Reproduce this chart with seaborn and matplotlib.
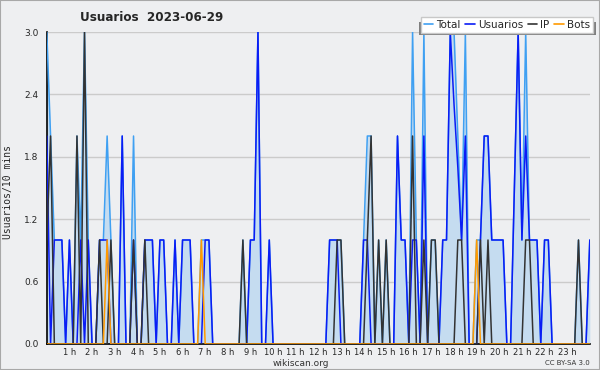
import numpy as np
import pandas as pd
import matplotlib
matplotlib.use("Agg")
import matplotlib.pyplot as plt
import seaborn as sns
from matplotlib.ticker import MultipleLocator, FixedLocator, FormatStrFormatter
from matplotlib.patches import Rectangle
from matplotlib.lines import Line2D

# ---------------- data (10-minute slots, 0h .. 24h) ----------------
title = "Usuarios  2023-06-29"
y_label = "Usuarios/10 mins"
series_names = ["Total", "Usuarios", "IP", "Bots"]
hour_ticks = [1, 2, 3, 4, 5, 6, 7, 8, 9, 10, 11, 12, 13, 14, 15, 16, 17, 18, 19, 20, 21, 22, 23]
hour_labels = ["1 h", "2 h", "3 h", "4 h", "5 h", "6 h", "7 h", "8 h", "9 h", "10 h", "11 h", "12 h",
               "13 h", "14 h", "15 h", "16 h", "17 h", "18 h", "19 h", "20 h", "21 h", "22 h", "23 h"]

total = [3, 2, 1, 1, 1, 0,   1, 0, 2, 1, 3, 1,   0, 0, 1, 1, 2, 1,   0, 0, 2, 0, 0, 2,
         0, 0, 1, 1, 1, 0,   1, 1, 0, 0, 1, 0,   1, 1, 1, 0, 0, 1,   1, 1, 0, 0, 0, 0,
         0, 0, 0, 0, 1, 0,   1, 1, 3, 0, 0, 1,   0, 0, 0, 0, 0, 0,   0, 0, 0, 0, 0, 0,
         0, 0, 0, 1, 1, 1,   1, 0, 0, 0, 0, 0,   1, 2, 2, 0, 1, 0,   1, 0, 0, 2, 1, 1,
         0, 3, 1, 0, 3, 0,   1, 1, 0, 1, 1, 3,   3, 2, 1, 3, 0, 0,   1, 1, 2, 2, 1, 1,
         1, 1, 0, 0, 1.5, 3, 1, 3, 1, 1, 1, 0,   1, 1, 0, 0, 0, 0,   0, 0, 0, 1, 0, 0,
         1]
usuarios = [2, 0, 1, 1, 1, 0,   1, 0, 0, 1, 0, 1,   0, 0, 1, 1, 1, 0,   0, 0, 2, 0, 0, 1,
            0, 0, 1, 1, 1, 0,   1, 1, 0, 0, 1, 0,   1, 1, 1, 0, 0, 0,   1, 1, 0, 0, 0, 0,
            0, 0, 0, 0, 0, 0,   1, 1, 3, 0, 0, 1,   0, 0, 0, 0, 0, 0,   0, 0, 0, 0, 0, 0,
            0, 0, 0, 1, 1, 1,   0, 0, 0, 0, 0, 0,   1, 1, 0, 0, 0, 0,   0, 0, 0, 2, 1, 1,
            0, 1, 1, 0, 2, 0,   0, 0, 0, 1, 1, 3,   2.3, 1.7, 1, 2, 0, 0, 0, 1, 2, 2, 1, 1,
            1, 1, 0, 0, 1.5, 3, 1, 2, 1, 1, 1, 0,   1, 1, 0, 0, 0, 0,   0, 0, 0, 0, 0, 0,
            1]
ip = [1, 2, 0, 0, 0, 0,   0, 0, 2, 0, 3, 0,   0, 0, 1, 0, 0, 1,   0, 0, 0, 0, 0, 1,
      0, 0, 1, 0, 0, 0,   0, 0, 0, 0, 0, 0,   0, 0, 0, 0, 0, 0,   0, 0, 0, 0, 0, 0,
      0, 0, 0, 0, 1, 0,   0, 0, 0, 0, 0, 0,   0, 0, 0, 0, 0, 0,   0, 0, 0, 0, 0, 0,
      0, 0, 0, 0, 0, 1,   1, 0, 0, 0, 0, 0,   0, 1, 2, 0, 1, 0,   1, 0, 0, 0, 0, 0,
      0, 2, 0, 0, 1, 0,   1, 1, 0, 0, 0, 0,   0, 1, 1, 0, 0, 0,   0, 1, 0, 1, 0, 0,
      0, 0, 0, 0, 0, 0,   0, 1, 1, 0, 0, 0,   0, 0, 0, 0, 0, 0,   0, 0, 0, 1, 0, 0,
      0]
bots = [0, 0, 0, 0, 0, 0,   0, 0, 0, 0, 0, 0,   0, 0, 0, 0, 1, 0,   0, 0, 0, 0, 0, 0,
        0, 0, 0, 0, 0, 0,   0, 0, 0, 0, 0, 0,   0, 0, 0, 0, 0, 1,   0, 0, 0, 0, 0, 0,
        0, 0, 0, 0, 0, 0,   0, 0, 0, 0, 0, 0,   0, 0, 0, 0, 0, 0,   0, 0, 0, 0, 0, 0,
        0, 0, 0, 0, 0, 0,   0, 0, 0, 0, 0, 0,   0, 0, 0, 0, 0, 0,   0, 0, 0, 0, 0, 0,
        0, 0, 0, 0, 0, 0,   0, 0, 0, 0, 0, 0,   0, 0, 0, 0, 0, 0,   1, 0, 0, 0, 0, 0,
        0, 0, 0, 0, 0, 0,   0, 0, 0, 0, 0, 0,   0, 0, 0, 0, 0, 0,   0, 0, 0, 0, 0, 0,
        0]

# ---------------- style ----------------
sns.set_style("white")
plt.rcParams['font.family'] = ['DejaVu Sans']
BG = "#eeeff1"
colors = {"Total": "#3fa0f2", "Usuarios": "#0a1cf5", "IP": "#333333", "Bots": "#ff9a00"}
fill_color = "#c5dcf0"

hours = np.arange(len(total)) / 6.0
df = pd.DataFrame({"hour": hours, "Total": total, "Usuarios": usuarios, "IP": ip, "Bots": bots})

fig = plt.figure(figsize=(6.0, 3.7), dpi=100, facecolor=BG)
ax = fig.add_axes([0.078, 0.0703, 0.905, 0.8432])
ax.set_facecolor(BG)

ax.fill_between(df["hour"], df["Total"], 0, color=fill_color, lw=0, zorder=1)
for name in series_names:
    sns.lineplot(data=df, x="hour", y=name, ax=ax, color=colors[name], lw=1.1,
                 estimator=None, legend=False, zorder=3)

ax.set_xlim(0, 24)
ax.set_ylim(0, 3.0)
ax.xaxis.set_major_locator(FixedLocator(hour_ticks))
ax.set_xticklabels(hour_labels)
ax.xaxis.set_minor_locator(MultipleLocator(1 / 6))
ax.yaxis.set_major_locator(MultipleLocator(0.6))
ax.yaxis.set_minor_locator(MultipleLocator(0.15))
ax.yaxis.set_major_formatter(FormatStrFormatter("%.1f"))
ax.tick_params(axis="both", which="both", direction="out", color="black", width=1)
ax.tick_params(axis="x", which="major", length=4, labelsize=6, pad=-1)
ax.tick_params(axis="x", which="minor", length=3)
ax.tick_params(axis="y", which="major", length=4, labelsize=6.5, pad=2)
ax.tick_params(axis="y", which="minor", length=4)
ax.grid(axis="y", which="major", color="#cbcbcb", lw=1)
ax.set_axisbelow(True)
ax.set_xlabel("")
ax.set_ylabel("")
for s in ["top", "right"]:
    ax.spines[s].set_visible(False)
for s in ["left", "bottom"]:
    ax.spines[s].set_color("black")
    ax.spines[s].set_linewidth(1.2)

fig.text(0.253, 0.954, title, ha="center", va="center", fontsize=9.5, fontweight="bold",
         fontstretch="condensed")
fig.text(0.014, 0.48, y_label, rotation=90, ha="center", va="center", fontsize=7,
         family="DejaVu Sans Mono")
fig.text(0.501, 0.017, "wikiscan.org", ha="center", va="center", fontsize=6.5, color="#333333")
fig.text(0.946, 0.019, "CC BY-SA 3.0", ha="center", va="center", fontsize=5, color="#333333")

handles = [Line2D([0], [0], color=colors[n], lw=1.2) for n in series_names]
leg = fig.legend(handles, series_names, ncol=4, loc="upper right",
                 bbox_to_anchor=(592.5 / 600, 1 - 17.3 / 370), bbox_transform=fig.transFigure,
                 borderaxespad=0, fontsize=7.5, handlelength=0.9, handletextpad=0.3,
                 columnspacing=0.45, borderpad=0.25, frameon=True, fancybox=False,
                 edgecolor="#c8c8c8", facecolor="white", framealpha=1)
leg.set_zorder(6)
fig.add_artist(Rectangle((418.5 / 600, 1 - 34.5 / 370), (596 - 418.5) / 600, (34.5 - 22) / 370,
                         transform=fig.transFigure, facecolor="#7f7f7f", edgecolor="none", zorder=5))
fig.add_artist(Rectangle((0, 0), 1, 1, transform=fig.transFigure, fill=False,
                         edgecolor="#a8a8a8", lw=1.5, zorder=10))

fig.savefig("out.png", dpi=100, facecolor=BG)
